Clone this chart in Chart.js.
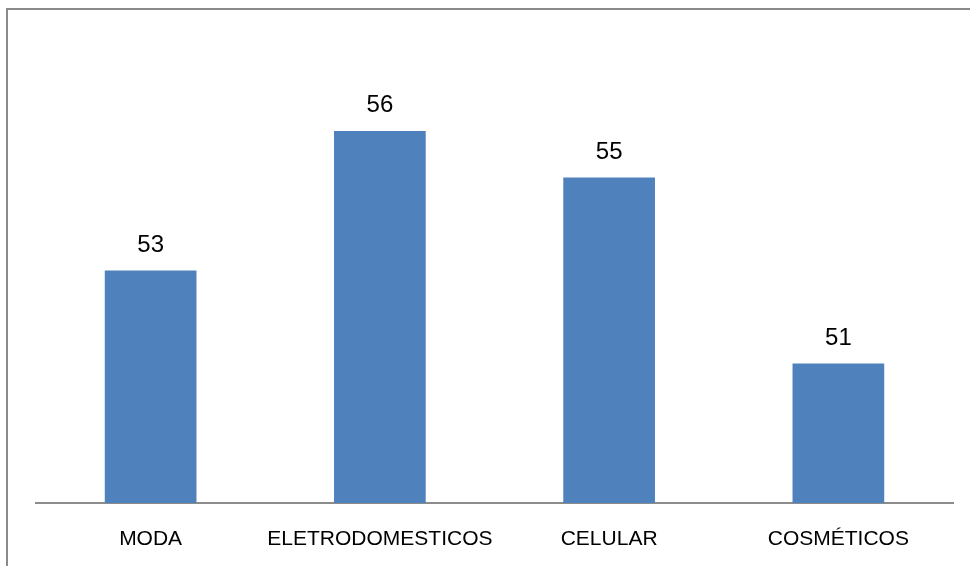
<!DOCTYPE html>
<html>
<head>
<meta charset="utf-8">
<script src="https://cdn.jsdelivr.net/npm/chart.js@4.4.0/dist/chart.umd.min.js"></script>
<style>
  html, body { margin: 0; padding: 0; background: #fff; }
  #wrap { width: 970px; height: 566px; position: relative; }
</style>
</head>
<body>
<div id="wrap"><canvas id="sales_Chart" width="970" height="566"></canvas></div>
<script>
const categories = ['MODA', 'ELETRODOMESTICOS', 'CELULAR', 'COSMÉTICOS'];
const values = [53, 56, 55, 51];

// outer frame, like the Excel chart border
const framePlugin = {
  id: 'frame',
  beforeDraw(chart) {
    const ctx = chart.ctx;
    ctx.save();
    ctx.fillStyle = '#ffffff';
    ctx.fillRect(0, 0, chart.width, chart.height);
    ctx.strokeStyle = '#8a8a8a';
    ctx.lineWidth = 2;
    ctx.strokeRect(7, 9, chart.width + 20, chart.height + 20);
    ctx.restore();
  }
};

// value above each bar
const valueLabels = {
  id: 'valueLabels',
  afterDatasetsDraw(chart) {
    const ctx = chart.ctx;
    const meta = chart.getDatasetMeta(0);
    ctx.save();
    ctx.font = '24px "Liberation Sans", Arial, sans-serif';
    ctx.fillStyle = '#000';
    ctx.textAlign = 'center';
    ctx.textBaseline = 'alphabetic';
    meta.data.forEach(function(bar, i) {
      ctx.fillText(String(values[i]), bar.x, bar.y - 19);
    });
    ctx.restore();
  }
};

const config_bar = {
  type: 'bar',
  data: {
    labels: categories,
    datasets: [{
      data: values,
      backgroundColor: '#4f81bd',
      borderWidth: 0,
      barPercentage: 0.4,
      categoryPercentage: 1
    }]
  },
  options: {
    responsive: false,
    animation: false,
    layout: { padding: { left: 36, right: 17, top: 38, bottom: 0 } },
    plugins: {
      legend: { display: false },
      tooltip: { enabled: false }
    },
    scales: {
      x: {
        grid: { display: false, drawTicks: false },
        border: { display: true, color: '#8c8c8c', width: 2 },
        ticks: {
          color: '#000',
          padding: 24,
          maxRotation: 0,
          autoSkip: false,
          font: { family: '"Liberation Sans", Arial, sans-serif', size: 21 }
        },
        afterFit(scale) { scale.height = 63; }
      },
      y: {
        display: false,
        min: 48,
        max: 58
      }
    }
  },
  plugins: [framePlugin, valueLabels]
};

let myChart = new Chart(document.getElementById('sales_Chart'), config_bar);
</script>
</body>
</html>
